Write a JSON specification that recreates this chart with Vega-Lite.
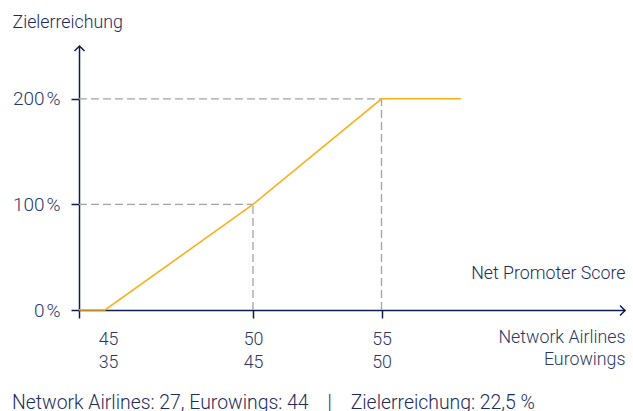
{
  "$schema": "https://vega.github.io/schema/vega-lite/v6.json",
  "width": 546,
  "height": 264,
  "autosize": "none",
  "padding": {"left": 79, "top": 46, "right": 8, "bottom": 101},
  "background": "white",
  "config": {
    "font": "Roboto",
    "view": {"stroke": null},
    "axis": {"grid": false}
  },
  "title": {
    "text": "Network Airlines: 27, Eurowings: 44\u00a0\u00a0\u00a0\u00a0|\u00a0\u00a0\u00a0\u00a0Zielerreichung: 22,5 %",
    "orient": "bottom",
    "anchor": "start",
    "frame": "group",
    "dx": -67,
    "offset": 23,
    "font": "Roboto",
    "fontSize": 19.4,
    "fontWeight": 300,
    "color": "#1d2b5b"
  },
  "datasets": {
    "curve": [
      {"nps": 44, "ziel": 0},
      {"nps": 45, "ziel": 0},
      {"nps": 50, "ziel": 100},
      {"nps": 55, "ziel": 200},
      {"nps": 58.1, "ziel": 200}
    ],
    "guides": [
      {"x": 44, "x2": 50, "y": 100, "y2": 100},
      {"x": 50, "x2": 50, "y": 0, "y2": 100},
      {"x": 44, "x2": 55, "y": 200, "y2": 200},
      {"x": 55, "x2": 55, "y": 0, "y2": 200}
    ],
    "arrowUp": [{"x": 44, "y": 250}],
    "arrowRight": [{"x": 64.5, "y": 0}]
  },
  "layer": [
    {
      "data": {"name": "guides"},
      "mark": {"type": "rule", "color": "#a3a3a3", "strokeDash": [8, 4], "strokeWidth": 1.3},
      "encoding": {
        "x": {
          "field": "x",
          "type": "quantitative",
          "scale": {"domain": [44, 45, 50, 55, 64.5], "range": [0, 26, 174, 302.5, 546], "nice": false, "zero": false},
          "axis": {
            "values": [44, 45, 50, 55, 64.5],
            "labelExpr": "datum.value == 45 ? ['45','35'] : datum.value == 50 ? ['50','45'] : datum.value == 55 ? ['55','50'] : datum.value == 64.5 ? ['Network Airlines','Eurowings'] : ''",
            "tickOpacity": {"condition": {"test": "datum.value == 45 || datum.value == 64.5", "value": 0}, "value": 1},
            "labelAlign": {"condition": {"test": "datum.value == 64.5", "value": "right"}, "value": "center"},
            "labelOffset": {"condition": {"test": "datum.value == 45", "value": 3}, "value": 0},
            "labelPadding": {"condition": {"test": "datum.value == 64.5", "value": 24}, "value": 26.5},
            "labelFlush": false,
            "labelOverlap": false,
            "labelBound": false,
            "labelBaseline": "alphabetic",
            "labelLineHeight": 22.7,
            "labelFontSize": 17.8,
            "labelFontWeight": 300,
            "labelColor": "#2a3866",
            "tickSize": 8,
            "tickWidth": 1.5,
            "tickColor": "#0f1c4d",
            "domainColor": "#0f1c4d",
            "domainWidth": 1.5,
            "title": "Net Promoter Score",
            "titleX": 546,
            "titleY": -31.5,
            "titleAlign": "right",
            "titleBaseline": "alphabetic",
            "titleFontSize": 17.8,
            "titleFontWeight": 300,
            "titleColor": "#1d2b5b"
          }
        },
        "x2": {"field": "x2"},
        "y": {
          "field": "y",
          "type": "quantitative",
          "scale": {"domain": [0, 250], "nice": false},
          "axis": {
            "values": [0, 100, 200],
            "labelExpr": "datum.value + '\u200a%'",
            "labelFontSize": 19,
            "labelFontWeight": 300,
            "labelColor": "#2a3866",
            "labelPadding": 11,
            "tickSize": 8,
            "tickWidth": 1.5,
            "tickColor": "#0f1c4d",
            "domainColor": "#0f1c4d",
            "domainWidth": 1.5,
            "title": "Zielerreichung",
            "titleAngle": 0,
            "titleX": -67,
            "titleY": -18.7,
            "titleAlign": "left",
            "titleBaseline": "alphabetic",
            "titleFontSize": 17.8,
            "titleFontWeight": 300,
            "titleColor": "#1d2b5b"
          }
        },
        "y2": {"field": "y2"}
      }
    },
    {
      "data": {"name": "curve"},
      "mark": {"type": "line", "color": "#fbb01a", "strokeWidth": 1.6},
      "encoding": {
        "x": {"field": "nps", "type": "quantitative"},
        "y": {"field": "ziel", "type": "quantitative"}
      }
    },
    {
      "data": {"name": "arrowUp"},
      "mark": {"type": "point", "shape": "M-1,1L0,0L1,1", "filled": false, "stroke": "#0f1c4d", "strokeWidth": 1.5, "size": 100, "opacity": 1, "xOffset": 0.5},
      "encoding": {
        "x": {"field": "x", "type": "quantitative"},
        "y": {"field": "y", "type": "quantitative"}
      }
    },
    {
      "data": {"name": "arrowRight"},
      "mark": {"type": "point", "shape": "M-1,-1L0,0L-1,1", "filled": false, "stroke": "#0f1c4d", "strokeWidth": 1.5, "size": 100, "opacity": 1, "yOffset": 0.5},
      "encoding": {
        "x": {"field": "x", "type": "quantitative"},
        "y": {"field": "y", "type": "quantitative"}
      }
    }
  ]
}
